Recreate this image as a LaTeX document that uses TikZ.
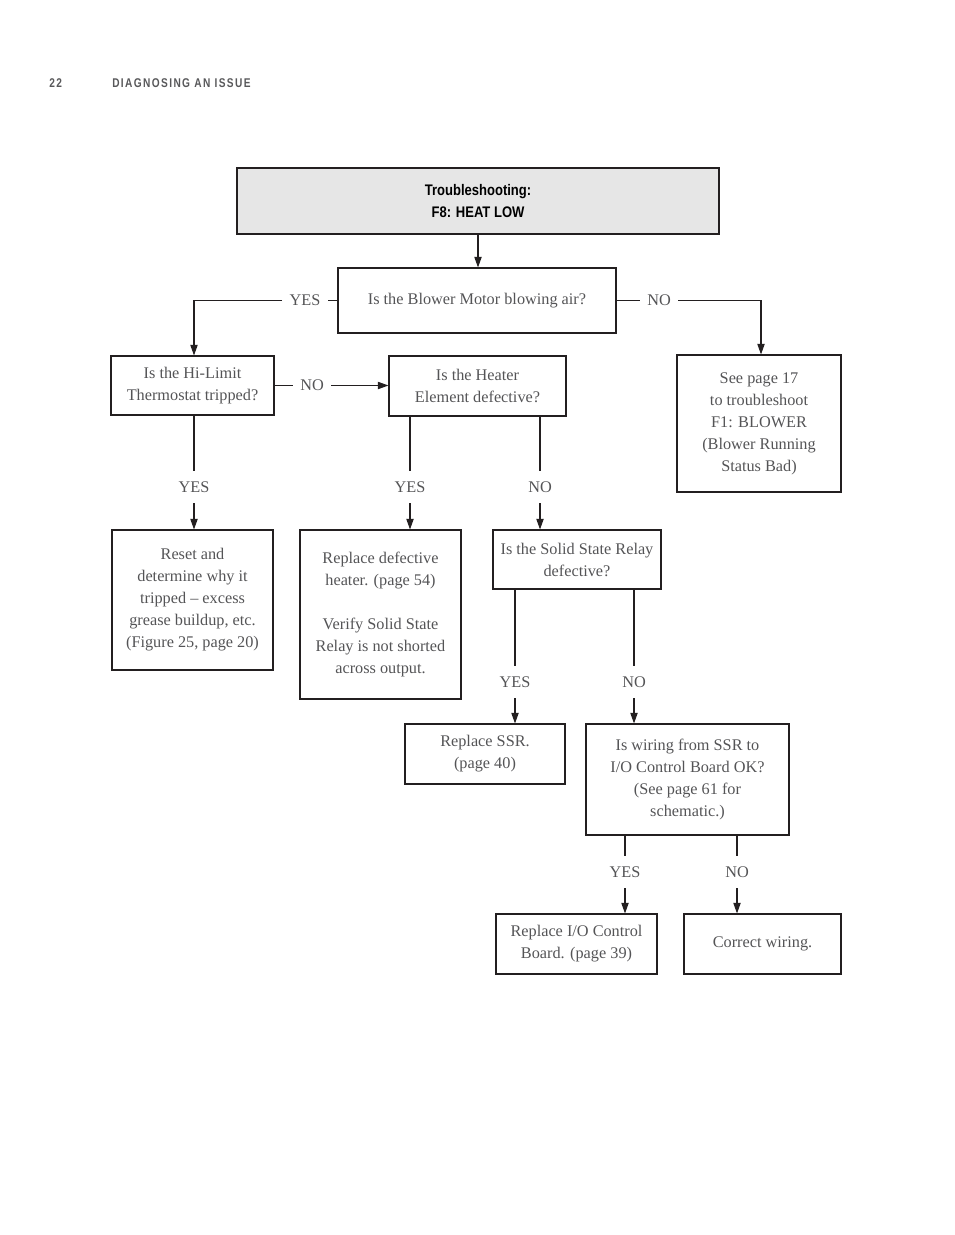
\documentclass[tikz,border=0pt]{standalone}
\usepackage{fontspec}
\setmainfont{Liberation Serif}
\newfontfamily\condfont[FakeStretch=0.85]{Liberation Sans}
\newfontfamily\headfont[FakeStretch=0.8,LetterSpace=11]{Liberation Sans}
\usetikzlibrary{arrows.meta,calc}
\definecolor{txt}{HTML}{545456}
\definecolor{ln}{HTML}{231F20}
\definecolor{titlefill}{HTML}{E6E6E6}
\definecolor{headc}{HTML}{58585A}
\begin{document}
\begin{tikzpicture}[x=0.75pt,y=-0.75pt,
  every node/.style={text=txt},
  box/.style={draw=ln,line width=0.8pt,rectangle,align=center,inner sep=0pt,
    font=\fontsize{12.2pt}{16.5pt}\selectfont},
  lbl/.style={inner xsep=5.5pt,inner ysep=8pt,font=\fontsize{12.2pt}{16.5pt}\selectfont},
  hdr/.style={anchor=west,text=headc,inner sep=0pt,font=\headfont\bfseries\fontsize{9.5pt}{11pt}\selectfont},
  con/.style={draw=ln,line width=0.8pt},
  arr/.style={con,-{Triangle[length=8pt,width=5.5pt]}}
]
\useasboundingbox (0,0) rectangle (954,1235);
% header
\node[hdr] (pg) at (49,83) {22};
\node[hdr] (hd) at (112,83) {DIAGNOSING AN ISSUE};
% boxes
\node[box,fill=titlefill,minimum width=361.5pt,minimum height=49.5pt,text=black,
  font=\condfont\bfseries\fontsize{11.5pt}{16.5pt}\selectfont] (title) at (478,201) {Troubleshooting:\\F8: HEAT LOW};
\node[box,minimum width=208.5pt,minimum height=48.75pt] (blower) at (477,300.5) {Is the Blower Motor blowing air?};
\node[box,minimum width=122.25pt,minimum height=44.25pt] (hilimit) at (192.5,385.5) {Is the Hi-Limit\\Thermostat tripped?};
\node[box,minimum width=132.75pt,minimum height=45pt] (heater) at (477.5,386) {Is the Heater\\Element defective?};
\node[box,minimum width=123pt,minimum height=102.75pt] (seepage) at (759,423.5) {See page 17\\to troubleshoot\\F1: BLOWER\\(Blower Running\\Status Bad)};
\node[box,minimum width=120.75pt,minimum height=105pt] (reset) at (192.5,600) {Reset and\\determine why it\\tripped -- excess\\grease buildup, etc.\\(Figure 25, page 20)};
\node[box,minimum width=120.75pt,minimum height=126.75pt] (repheat) at (380.5,614.5) {Replace defective\\heater. (page 54)\\[16.5pt]Verify Solid State\\Relay is not shorted\\across output.};
\node[box,minimum width=126pt,minimum height=44.25pt] (ssr) at (577,559.5) {Is the Solid State Relay\\defective?};
\node[box,minimum width=120pt,minimum height=45pt] (repssr) at (485,754) {Replace SSR.\\(page 40)};
\node[box,minimum width=152.25pt,minimum height=83.25pt] (wiring) at (687.5,779.5) {Is wiring from SSR to\\I/O Control Board OK?\\(See page 61 for\\schematic.)};
\node[box,minimum width=120.75pt,minimum height=45pt] (repio) at (576.5,944) {Replace I/O Control\\Board. (page 39)};
\node[box,minimum width=117.75pt,minimum height=45pt] (correct) at (762.5,944) {Correct wiring.};
% labels
\node[lbl] (y1) at (305,300.5) {YES};
\node[lbl] (n1) at (659,300.5) {NO};
\node[lbl] (n2) at (312,385.5) {NO};
\node[lbl] (y2) at (194,487) {YES};
\node[lbl] (y3) at (410,487) {YES};
\node[lbl] (n3) at (540,487) {NO};
\node[lbl] (y4) at (515,682) {YES};
\node[lbl] (n4) at (634,682) {NO};
\node[lbl] (y5) at (625,872) {YES};
\node[lbl] (n5) at (737,872) {NO};
% connectors
\draw[arr] (title.south) -- (title.south |- blower.north);
\draw[con] (blower.west) -- (y1.east);
\draw[arr] (y1.west) -| (y2 |- hilimit.north);
\draw[con] (blower.east) -- (n1.west);
\draw[arr] (n1.east) -| ($(seepage.north)+(2,0)$);
\draw[con] (hilimit.east) -- (n2.west);
\draw[arr] (n2.east) -- (n2.east -| heater.west);
\draw[con] (y2 |- hilimit.south) -- (y2.north);
\draw[arr] (y2.south) -- (y2 |- reset.north);
\draw[con] (y3 |- heater.south) -- (y3.north);
\draw[arr] (y3.south) -- (y3 |- repheat.north);
\draw[con] (n3 |- heater.south) -- (n3.north);
\draw[arr] (n3.south) -- (n3 |- ssr.north);
\draw[con] (y4 |- ssr.south) -- (y4.north);
\draw[arr] (y4.south) -- (y4 |- repssr.north);
\draw[con] (n4 |- ssr.south) -- (n4.north);
\draw[arr] (n4.south) -- (n4 |- wiring.north);
\draw[con] (y5 |- wiring.south) -- (y5.north);
\draw[arr] (y5.south) -- (y5 |- repio.north);
\draw[con] (n5 |- wiring.south) -- (n5.north);
\draw[arr] (n5.south) -- (n5 |- correct.north);
\end{tikzpicture}
\end{document}
